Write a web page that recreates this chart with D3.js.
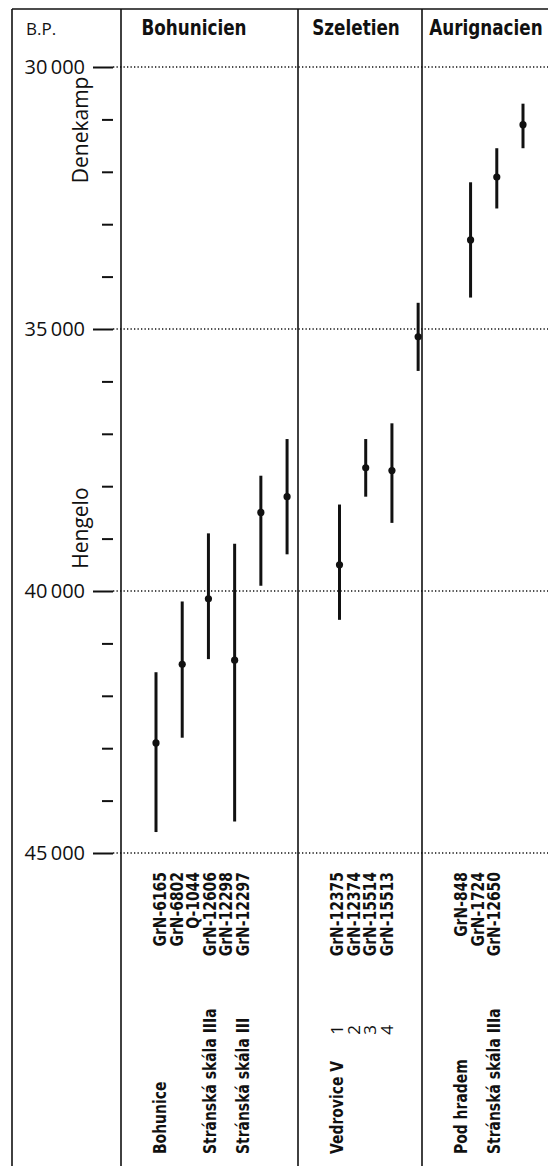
<!DOCTYPE html>
<html>
<head>
<meta charset="utf-8">
<script src="https://cdn.jsdelivr.net/npm/d3@7"></script>
<style>
  body { margin: 0; background: #fff; }
  svg { display: block; }
  .cond { font-family: "DejaVu Sans", sans-serif; font-weight: bold; }
  .reg { font-family: "Open Sans", "Noto Sans", sans-serif; }
</style>
</head>
<body>
<div id="chart"></div>
<script>
// cultures (column headers) and their samples
const cultures = ["Bohunicien", "Szeletien", "Aurignacien"];
const sampleCulture = [0, 0, 0, 0, 0, 0, 1, 1, 1, 1, 2, 2, 2];
const labIds = ["GrN-6165", "GrN-6802", "Q-1044", "GrN-12606", "GrN-12298", "GrN-12297",
                "GrN-12375", "GrN-12374", "GrN-15514", "GrN-15513",
                "GrN-848", "GrN-1724", "GrN-12650"];
const siteNames = ["Bohunice", "", "", "Stránská skála IIIa", "", "Stránská skála III",
                   "Vedrovice V", "", "", "",
                   "Pod hradem", "", "Stránská skála IIIa"];
const layerNums = ["", "", "", "", "", "", "1", "2", "3", "4", "", "", ""];
// dates B.P.: central value, younger limit, older limit
const dateMid = [42900, 41400, 40150, 41320, 38500, 38200, 39500, 37650, 37700, 35150, 33300, 32100, 31100];
const dateLow = [41550, 40200, 38900, 39100, 37800, 37100, 38350, 37100, 36800, 34500, 32200, 31550, 30700];
const dateHigh = [44600, 42800, 41300, 44400, 39900, 39300, 40550, 38200, 38700, 35800, 34400, 32700, 31550];
// y axis
const majorTicks = [30000, 35000, 40000, 45000];
const minorTicks = d3.range(31000, 45000, 1000).filter(d => d % 5000 !== 0);
const stages = [{name: "Denekamp", at: 31200}, {name: "Hengelo", at: 38800}];

const width = 548, height = 1166;
const svg = d3.select("#chart").append("svg")
    .attr("width", width)
    .attr("height", height);

const y = d3.scaleLinear().domain([30000, 45000]).range([67, 853]);

// column edges of the frame
const colEdges = [121, 298, 422, 548];
// the lettering is a narrow bold face: squeeze a normal bold along the text
const squeeze = 0.82;

// x slots for the bars (one empty slot between cultures)
let slotKeys = [];
labIds.forEach(function(id, i) {
    if (i > 0 && sampleCulture[i] !== sampleCulture[i - 1]) slotKeys.push("gap" + i);
    slotKeys.push(id);
});
const x = d3.scalePoint().domain(slotKeys).range([156, 523]);

// frame
const frame = svg.append("g").attr("stroke", "#111").attr("stroke-width", 1.6);
frame.append("line").attr("x1", 12).attr("x2", 12).attr("y1", 9).attr("y2", height);
frame.append("line").attr("x1", 12).attr("x2", width).attr("y1", 9).attr("y2", 9);
colEdges.slice(0, 3).forEach(function(cx) {
    frame.append("line").attr("x1", cx).attr("x2", cx).attr("y1", 9).attr("y2", height);
});

// headers
svg.append("text").attr("class", "reg")
    .attr("x", 26).attr("y", 35)
    .style("font-size", "17px")
    .attr("fill", "#111")
    .text("B.P.");
const headerX = [194, 356, 486];
cultures.forEach(function(c, i) {
    svg.append("text").attr("class", "cond")
        .attr("transform", "translate(" + headerX[i] + ",35) scale(0.8,1)")
        .attr("text-anchor", "middle")
        .style("font-size", "21px")
        .attr("fill", "#111")
        .text(c);
});

// dotted grid lines at major ticks
svg.append("g").selectAll("line").data(majorTicks).join("line")
    .attr("x1", 113).attr("x2", width)
    .attr("y1", d => y(d)).attr("y2", d => y(d))
    .attr("stroke", "#111").attr("stroke-width", 1.3)
    .attr("stroke-dasharray", "1.3,2.2");

// axes
const fmt = d => d3.format(",")(d).replace(",", "\u2009");
const majorAxis = svg.append("g")
    .attr("transform", "translate(113,0)")
    .call(d3.axisLeft(y).tickValues(majorTicks).tickSize(20).tickPadding(8).tickFormat(fmt));
majorAxis.select(".domain").remove();
majorAxis.selectAll("line").attr("stroke", "#111").attr("stroke-width", 2);
majorAxis.selectAll("text").attr("class", "reg").style("font-size", "20px").attr("fill", "#111");

const minorAxis = svg.append("g")
    .attr("transform", "translate(113,0)")
    .call(d3.axisLeft(y).tickValues(minorTicks).tickSize(11).tickFormat(""));
minorAxis.select(".domain").remove();
minorAxis.selectAll("line").attr("stroke", "#111").attr("stroke-width", 2);

// stage names
svg.append("g").selectAll("text").data(stages).join("text")
    .attr("class", "reg")
    .attr("transform", d => "translate(88," + y(d.at) + ") rotate(-90)")
    .attr("text-anchor", "middle")
    .style("font-size", "21px")
    .attr("fill", "#111")
    .text(d => d.name);

// error bars
const bars = svg.append("g");
bars.selectAll("line").data(labIds).join("line")
    .attr("x1", d => x(d)).attr("x2", d => x(d))
    .attr("y1", (d, i) => y(dateLow[i]))
    .attr("y2", (d, i) => y(dateHigh[i]))
    .attr("stroke", "#111").attr("stroke-width", 3);
bars.selectAll("circle").data(labIds).join("circle")
    .attr("cx", d => x(d))
    .attr("cy", (d, i) => y(dateMid[i]))
    .attr("r", 3.6)
    .attr("fill", "#111");

// bottom labels, packed per culture column
const labelStep = 16.5;
const labelX = labIds.map(function(id, i) {
    const c = sampleCulture[i];
    const first = sampleCulture.indexOf(c);
    return colEdges[c] + 39 + (i - first) * labelStep;
});
const rot = (lx, ly) => "translate(" + lx + "," + ly + ") rotate(-90) scale(" + squeeze + ",1)";

svg.append("g").selectAll("text").data(labIds).join("text")
    .attr("class", "cond")
    .attr("transform", (d, i) => rot(labelX[i], 872))
    .attr("text-anchor", "end")
    .attr("dy", "0.36em")
    .style("font-size", "17px")
    .attr("fill", "#111")
    .text(d => d);

svg.append("g").selectAll("text").data(layerNums).join("text")
    .attr("class", "reg")
    .attr("transform", (d, i) => "translate(" + labelX[i] + ",1030) rotate(-90)")
    .attr("text-anchor", "middle")
    .attr("dy", "0.36em")
    .style("font-size", "17px")
    .attr("fill", "#111")
    .text(d => d);

svg.append("g").selectAll("text").data(siteNames).join("text")
    .attr("class", "cond")
    .attr("transform", (d, i) => rot(labelX[i], 1154))
    .attr("text-anchor", "start")
    .attr("dy", "0.36em")
    .style("font-size", "17px")
    .attr("fill", "#111")
    .text(d => d);
</script>
</body>
</html>
